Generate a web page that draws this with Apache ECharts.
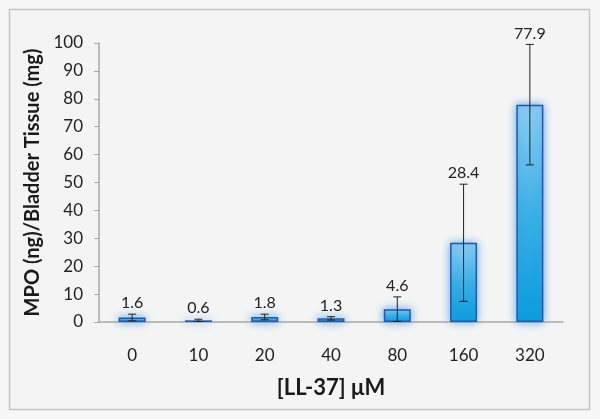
<!DOCTYPE html>
<html><head><meta charset="utf-8">
<script src="https://cdn.jsdelivr.net/npm/echarts@6/dist/echarts.min.js"></script>
<style>html,body{margin:0;padding:0;background:#f7f7f7;}#c{width:600px;height:419px;}</style>
</head><body><div id="c"></div>
<script>
var categories = ['0','10','20','40','80','160','320'];
var values = [1.6, 0.6, 1.8, 1.3, 4.6, 28.4, 77.9];
var errors = [1.2, 0.4, 1.0, 0.6, 4.4, 21.0, 21.6];
var yTicks = {min:0, max:100, interval:10};

var FONT = 'Lato';
var chart = echarts.init(document.getElementById('c'));
var errData = values.map(function(v,i){return [i, v, errors[i]];});
chart.setOption({
  backgroundColor:'#f7f7f7',
  animation:false,
  graphic:[{type:'rect', shape:{x:9.5,y:9.5,width:580,height:400}, style:{fill:'#f4f4f4', stroke:'#c4c4c4', lineWidth:1.5}, z:-10}],
  grid:{left:99, right:37, top:43, bottom:97},
  xAxis:{type:'category', data:categories,
    name:'[LL-37] \u03bcM', nameLocation:'middle', nameGap:55,
    nameTextStyle:{fontFamily:FONT, fontSize:22, fontWeight:'bold', color:'#1a1a1a'},
    axisLine:{lineStyle:{color:'#a8a8a8', width:1.5}}, axisTick:{show:false},
    axisLabel:{fontFamily:FONT, fontSize:17, color:'#222', margin:25}},
  yAxis:{type:'value', min:yTicks.min, max:yTicks.max, interval:yTicks.interval,
    name:'MPO (ng)/Bladder Tissue (mg)', nameLocation:'middle', nameGap:53,
    nameTextStyle:{fontFamily:FONT, fontSize:20, fontWeight:'bold', color:'#1a1a1a'},
    axisLine:{show:true, lineStyle:{color:'#a8a8a8', width:1.5}},
    axisTick:{show:true, length:5, lineStyle:{color:'#a8a8a8'}},
    splitLine:{show:false},
    axisLabel:{fontFamily:FONT, fontSize:17, color:'#222', margin:16}},
  series:[
    {type:'bar', data:values, barWidth:27,
     itemStyle:{
       color:new echarts.graphic.LinearGradient(0,0,0,1,[{offset:0,color:'#8fcdf2'},{offset:0.5,color:'#3bb0e6'},{offset:1,color:'#0a9bdc'}]),
       borderColor:'#2656a6', borderWidth:1.5,
       shadowColor:'rgba(60,150,230,0.85)', shadowBlur:8}},
    {type:'custom', data:errData, z:5,
     renderItem:function(params, api){
       var i=api.value(0), v=api.value(1), e=api.value(2);
       var top=api.coord([i, v+e]); var bot=api.coord([i, Math.max(v-e,0)]);
       var x=top[0];
       return {type:'group', children:[
         {type:'line', shape:{x1:x,y1:top[1],x2:x,y2:bot[1]}, style:{stroke:'#222', lineWidth:1}},
         {type:'line', shape:{x1:x-4,y1:top[1],x2:x+4,y2:top[1]}, style:{stroke:'#222', lineWidth:1}},
         {type:'line', shape:{x1:x-4,y1:bot[1],x2:x+4,y2:bot[1]}, style:{stroke:'#222', lineWidth:1}},
         {type:'text', x:x, y:top[1]-3, style:{text:String(v), fontFamily:FONT, fontSize:16, fill:'#222', align:'center', verticalAlign:'bottom'}}
       ]};
     }}
  ]
});
</script></body></html>
